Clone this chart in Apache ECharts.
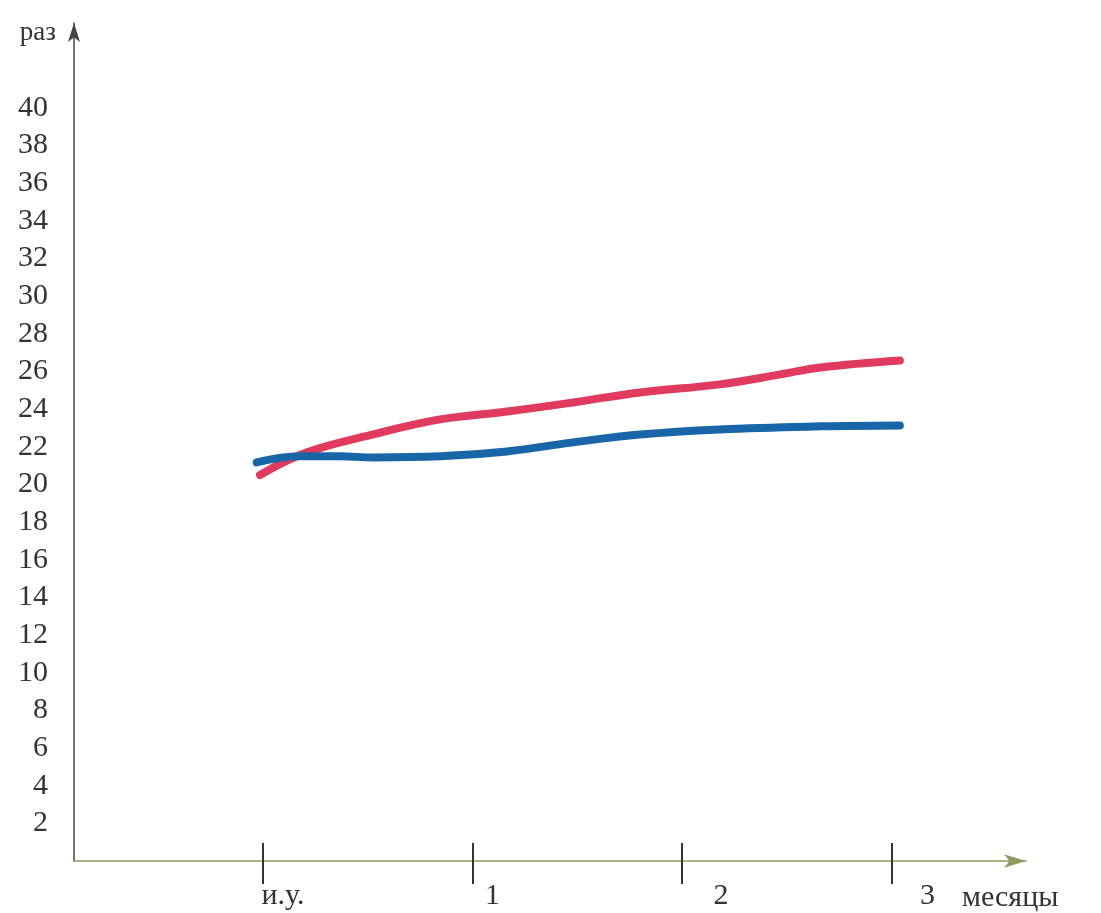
<!DOCTYPE html>
<html><head><meta charset="utf-8">
<script src="https://cdn.jsdelivr.net/npm/echarts@6/dist/echarts.min.js"></script>
<style>html,body{margin:0;padding:0;background:#fff}#c{width:1101px;height:913px}</style>
</head><body><div id="c"></div>
<script>
// x positions: 0 = "и.у." (initial level), 1..3 = months
const xTicks = [0, 1, 2, 3];
const xTickLabels = ['и.у.', '1', '2', '3'];
const yLabels = [2,4,6,8,10,12,14,16,18,20,22,24,26,28,30,32,34,36,38,40];
const redX = [-0.014, 0.21, 0.525, 0.845, 1.165, 1.48, 1.80, 2.18, 2.47, 2.66, 3.04];
const redY = [20.5, 21.7, 22.65, 23.45, 23.87, 24.35, 24.88, 25.31, 25.84, 26.21, 26.58];
const blueX = [-0.03, 0.18, 0.37, 0.525, 0.845, 1.165, 1.48, 1.80, 2.18, 2.66, 3.04];
const blueY = [21.17, 21.49, 21.49, 21.43, 21.49, 21.75, 22.23, 22.65, 22.92, 23.08, 23.13];

const font = 'Liberation Serif';
const fs = 30;
const labelPad = {'и.у.': 40, '1': 40, '2': 78, '3': 72};
const chart = echarts.init(document.getElementById('c'));
const gridBox = {left: 74, top: 23, width: 952, bottom: 51};
chart.setOption({
  animation: false,
  backgroundColor: '#fff',
  grid: [Object.assign({}, gridBox), Object.assign({}, gridBox)],
  xAxis: [{
    type: 'value', gridIndex: 0, min: -0.902, max: 3.642,
    splitLine: {show: false},
    axisLine: {show: true, onZero: false, lineStyle: {color: '#8e9c62', width: 1.6},
      symbol: ['none', 'arrow'], symbolSize: [10, 22]},
    axisTick: {show: true, customValues: xTicks, length: 23, lineStyle: {color: '#333', width: 2}},
    axisLabel: {show: true, customValues: xTicks, margin: 20,
      fontFamily: font, fontSize: fs, color: '#333',
      formatter: v => { const t = xTickLabels[xTicks.indexOf(v)]; return '{p' + (labelPad[t]) + '|' + t + '}'; },
      rich: {p40: {padding: [0,0,0,40], fontFamily: font, fontSize: fs, color: '#333'},
             p78: {padding: [0,0,0,78], fontFamily: font, fontSize: fs, color: '#333'},
             p72: {padding: [0,0,0,72], fontFamily: font, fontSize: fs, color: '#333'}}},
    name: 'месяцы', nameLocation: 'end', nameGap: -64,
    nameTextStyle: {fontFamily: font, fontSize: fs, color: '#333', align: 'left', verticalAlign: 'top', padding: [22,0,0,0]}
  }, {
    type: 'value', gridIndex: 1, min: -0.902, max: 3.642,
    splitLine: {show: false}, axisLine: {show: false, onZero: false}, axisLabel: {show: false},
    axisTick: {show: true, inside: true, customValues: xTicks, length: 19, lineStyle: {color: '#333', width: 2}}
  }],
  yAxis: [{
    type: 'value', gridIndex: 0, min: 0, max: 44.5, interval: 2,
    splitLine: {show: false},
    axisLine: {show: true, onZero: false, lineStyle: {color: '#444', width: 1.5},
      symbol: ['none', 'arrow'], symbolSize: [9, 19]},
    axisTick: {show: false},
    axisLabel: {show: true, customValues: yLabels, margin: 26,
      fontFamily: font, fontSize: fs, color: '#333'},
    name: 'раз', nameLocation: 'end', nameGap: -10,
    nameTextStyle: {fontFamily: font, fontSize: 27, color: '#333', align: 'right', verticalAlign: 'middle', padding: [0, 18, 0, 0]}
  }, {
    type: 'value', gridIndex: 1, min: 0, max: 44.5, show: false
  }],
  series: [{
    type: 'line', name: 'red', xAxisIndex: 0, yAxisIndex: 0,
    data: redX.map((x, i) => [x, redY[i]]), smooth: 0.4, showSymbol: false,
    lineStyle: {color: '#e03a5e', width: 8, cap: 'round', join: 'round'}
  }, {
    type: 'line', name: 'blue', xAxisIndex: 0, yAxisIndex: 0,
    data: blueX.map((x, i) => [x, blueY[i]]), smooth: 0.4, showSymbol: false,
    lineStyle: {color: '#1866a8', width: 8, cap: 'round', join: 'round'}
  }]
});
</script></body></html>
